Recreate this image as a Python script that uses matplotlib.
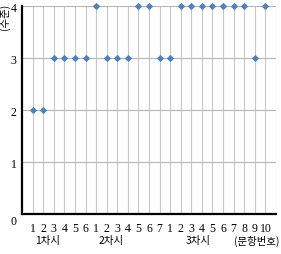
import matplotlib
matplotlib.use("Agg")
import matplotlib.pyplot as plt
from matplotlib.transforms import ScaledTranslation

# 문항별 수준 (1차시 6문항, 2차시 7문항, 3차시 10문항)
session1 = [2, 2, 3, 3, 3, 3]
session2 = [4, 3, 3, 3, 4, 4, 3]
session3 = [3, 4, 4, 4, 4, 4, 4, 4, 3, 4]
sessions = ["1차시", "2차시", "3차시"]
y_ticks = [0, 1, 2, 3, 4]

values = session1 + session2 + session3
tick_labels = [str(i + 1) for s in (session1, session2, session3) for i in range(len(s))]
xs = list(range(1, len(values) + 1))
KR = ["Noto Sans CJK KR", "DejaVu Sans"]

W, H = 281, 255
fig = plt.figure(figsize=(W / 100, H / 100), dpi=100)
ax = fig.add_axes([22 / W, 40 / H, 254 / W, 208 / H])

ax.set_xlim(0, len(values) + 1)
ax.set_ylim(0, 4)
for x in xs + [len(values) + 1]:
    ax.axvline(x, color="#c8c8c8", lw=0.8, zorder=1)
for y in y_ticks[1:]:
    ax.axhline(y, color="#b4b4b4", lw=0.8, zorder=1)

ax.scatter(xs, values, s=14, marker="D", color="#4f81bd", zorder=3,
           clip_on=False, linewidths=0)

for side in ("top", "right"):
    ax.spines[side].set_visible(False)
ax.spines["left"].set_linewidth(1.6)
ax.spines["bottom"].set_linewidth(1.6)

ax.set_xticks(xs)
ax.set_xticklabels(tick_labels, family="Liberation Serif", fontsize=8.5)
ax.set_yticks(y_ticks)
ax.set_yticklabels([str(v) for v in y_ticks], family="Liberation Serif", fontsize=8.5)
ax.tick_params(length=0)
ax.tick_params(axis="x", pad=6)
ax.tick_params(axis="y", pad=4)
# the "0" sits a little below the axis line
zero = ax.get_yticklabels()[0]
zero.set_transform(zero.get_transform() + ScaledTranslation(0, -6 / 100, fig.dpi_scale_trans))

# 차시 label under each group
starts = [1, 1 + len(session1), 1 + len(session1) + len(session2)]
centers = [starts[0] + 1.4, starts[1] + 1.4, starts[2] + 2.6]
for c, name in zip(centers, sessions):
    ax.text(c, -0.5, name, ha="center", va="center", fontsize=7.5, family=KR)
ax.text(len(values) - 0.8, -0.5, "(문항번호)", ha="center", va="center",
        fontsize=7.5, family=KR)

fig.text(5 / W, 1 - 17 / H, "(수준)", rotation=90, ha="center", va="center",
         fontsize=7.5, family=KR)

fig.savefig("out.png", dpi=100)
